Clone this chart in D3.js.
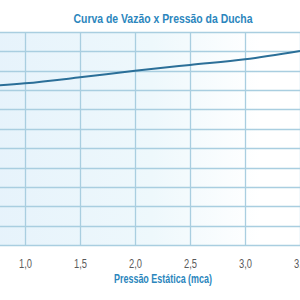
<!DOCTYPE html>
<html>
<head>
<meta charset="utf-8">
<script src="https://cdn.jsdelivr.net/npm/d3@7"></script>
<style>
  html, body { margin: 0; padding: 0; background: #fff; }
  svg { display: block; }
</style>
</head>
<body>
<div id="chart"></div>
<script>
// Curva de Vazão x Pressão da Ducha
const pressures = [0.5, 1.0, 1.5, 2.0, 2.5, 3.0, 3.5];
const flows = [8.15, 8.35, 8.66, 9.0, 9.3, 9.59, 10.02];
const xGrid = [0.5, 1.0, 1.5, 2.0, 2.5, 3.0, 3.5];
const xLabels = [1.0, 1.5, 2.0, 2.5, 3.0, 3.5];
const yTicks = [0, 1, 2, 3, 4, 5, 6, 7, 8, 9, 10, 11];

const width = 300;
const height = 300;
// plot area extends past the left edge (cropped in the reference)
const margin = { top: 32, right: 0, bottom: 55, left: -30 };
const font = '"Liberation Sans", Arial, sans-serif';

const svg = d3.select('#chart').append('svg')
    .attr('width', width)
    .attr('height', height);

const x = d3.scaleLinear()
    .domain([0.5, 3.5])
    .range([margin.left, width - margin.right]);

const y = d3.scaleLinear()
    .domain([0, 11])
    .range([height - margin.bottom, margin.top]);

// background gradient
const defs = svg.append('defs');
const grad = defs.append('linearGradient')
    .attr('id', 'bg')
    .attr('x1', '0%').attr('x2', '100%')
    .attr('y1', '0%').attr('y2', '0%');
grad.append('stop').attr('offset', '0%').attr('stop-color', '#e5f2fb');
grad.append('stop').attr('offset', '55%').attr('stop-color', '#eef8fc');
grad.append('stop').attr('offset', '88%').attr('stop-color', '#ffffff');

svg.append('rect')
    .attr('x', x.range()[0])
    .attr('y', y.range()[1])
    .attr('width', x.range()[1] - x.range()[0])
    .attr('height', y.range()[0] - y.range()[1])
    .attr('fill', 'url(#bg)');

// horizontal grid
svg.append('g')
    .selectAll('line')
    .data(yTicks)
    .enter().append('line')
    .attr('x1', x.range()[0])
    .attr('x2', x.range()[1])
    .attr('y1', d => Math.round(y(d)) + 0.5)
    .attr('y2', d => Math.round(y(d)) + 0.5)
    .attr('stroke', '#a9cee0')
    .attr('stroke-width', 1.3);

// vertical grid
svg.append('g')
    .selectAll('line')
    .data(xGrid)
    .enter().append('line')
    .attr('x1', d => Math.round(x(d)) + 0.5)
    .attr('x2', d => Math.round(x(d)) + 0.5)
    .attr('y1', y.range()[0])
    .attr('y2', y.range()[1])
    .attr('stroke', '#a9cee0')
    .attr('stroke-width', 1.3);

// x axis labels
const xAxis = d3.axisBottom(x)
    .tickValues(xLabels)
    .tickSize(0)
    .tickPadding(14)
    .tickFormat(d => d3.format('.1f')(d).replace('.', ','));

svg.append('g')
    .attr('transform', `translate(0, ${y.range()[0]})`)
    .call(xAxis)
    .call(g => g.select('.domain').remove())
    .selectAll('text')
    .attr('textLength', 13)
    .attr('lengthAdjust', 'spacingAndGlyphs')
    .style('font-family', font)
    .style('font-size', '13px')
    .style('fill', '#5a5a5a');

// curve
const line = d3.line()
    .x((d, i) => x(pressures[i]))
    .y(d => y(d))
    .curve(d3.curveMonotoneX);

svg.append('path')
    .datum(flows)
    .attr('d', line)
    .attr('fill', 'none')
    .attr('stroke', '#2b6f98')
    .attr('stroke-width', 2);

// title
svg.append('text')
    .attr('x', 163)
    .attr('y', 23)
    .attr('text-anchor', 'middle')
    .attr('textLength', 179)
    .attr('lengthAdjust', 'spacingAndGlyphs')
    .style('font-family', font)
    .style('font-size', '13px')
    .style('font-weight', 'bold')
    .style('fill', '#2b86bd')
    .text('Curva de Vazão x Pressão da Ducha');

// x axis title
svg.append('text')
    .attr('x', 163)
    .attr('y', 283)
    .attr('text-anchor', 'middle')
    .attr('textLength', 98)
    .attr('lengthAdjust', 'spacingAndGlyphs')
    .style('font-family', font)
    .style('font-size', '12px')
    .style('font-weight', 'bold')
    .style('fill', '#2b86bd')
    .text('Pressão Estática (mca)');
</script>
</body>
</html>
